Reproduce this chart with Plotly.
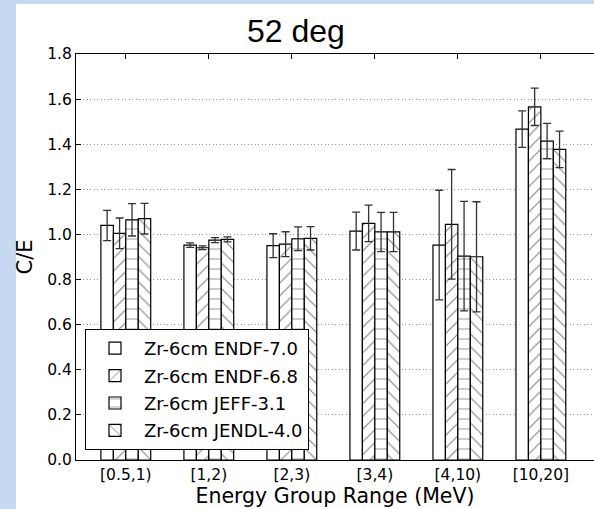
import plotly.graph_objects as go

categories = ["[0.5,1)", "[1,2)", "[2,3)", "[3,4)", "[4,10)", "[10,20]"]
series_names = ["Zr-6cm ENDF-7.0", "Zr-6cm ENDF-6.8", "Zr-6cm JEFF-3.1", "Zr-6cm JENDL-4.0"]
endf70 = [1.040, 0.953, 0.950, 1.015, 0.953, 1.467]
endf70_err = [0.067, 0.010, 0.053, 0.084, 0.243, 0.081]
endf68 = [1.005, 0.941, 0.957, 1.049, 1.045, 1.566]
endf68_err = [0.068, 0.008, 0.055, 0.081, 0.243, 0.083]
jeff31 = [1.065, 0.975, 0.981, 1.011, 0.904, 1.414]
jeff31_err = [0.072, 0.011, 0.053, 0.087, 0.243, 0.078]
jendl40 = [1.070, 0.978, 0.983, 1.011, 0.901, 1.377]
jendl40_err = [0.068, 0.011, 0.052, 0.087, 0.244, 0.081]
y_ticks = [0.0, 0.2, 0.4, 0.6, 0.8, 1.0, 1.2, 1.4, 1.6, 1.8]

values = [endf70, endf68, jeff31, jendl40]
errors = [endf70_err, endf68_err, jeff31_err, jendl40_err]
patterns = [
    dict(shape=""),
    dict(shape="/", fgcolor="#000000", bgcolor="white", size=9, solidity=0.12),
    dict(shape="-", fgcolor="#555555", bgcolor="white", size=10, solidity=0.12),
    dict(shape="\\", fgcolor="#000000", bgcolor="white", size=9, solidity=0.12),
]

W, H = 594, 509
ML, MR, MT, MB = 76, 0, 54, 49
PW = W - ML - MR
PH = H - MT - MB
xr = [-0.6, 5.64]

fig = go.Figure()
for name, v, e, p in zip(series_names, values, errors, patterns):
    fig.add_trace(go.Bar(
        x=list(range(len(categories))), y=v, name=name,
        legendgroup=name,
        marker=dict(color="white", line=dict(color="black", width=1.2), pattern=p),
        error_y=dict(type="data", array=e, visible=True, color="#333333", thickness=1.3, width=4),
    ))

def px_x(p):
    return (p - ML) / PW

def px_y(p):
    return (H - MB - p) / PH

blue = "#c6d9f1"
fig.add_shape(type="rect", xref="paper", yref="paper", x0=px_x(0), x1=px_x(16), y0=px_y(H), y1=px_y(0),
              fillcolor=blue, line_width=0, layer="below")
fig.add_shape(type="rect", xref="paper", yref="paper", x0=px_x(0), x1=px_x(W), y0=px_y(4), y1=px_y(0),
              fillcolor=blue, line_width=0, layer="below")

fig.add_annotation(text="52 deg", xref="paper", yref="paper", x=px_x(296), y=px_y(31),
                   xanchor="center", yanchor="middle", showarrow=False,
                   font=dict(family="Liberation Sans, Arial", size=32, color="black"))

fig.update_layout(
    width=W, height=H,
    margin=dict(l=ML, r=MR, t=MT, b=MB, autoexpand=False),
    paper_bgcolor="white", plot_bgcolor="white",
    font=dict(family="DejaVu Sans", color="black", size=15),
    barmode="group", bargap=0.4, bargroupgap=0.0,
    showlegend=True,
    legend=dict(x=px_x(85), y=px_y(450), xanchor="left", yanchor="bottom",
                bgcolor="white", bordercolor="black", borderwidth=1,
                font=dict(size=18), tracegroupgap=1, itemwidth=48),
    xaxis=dict(range=xr, tickmode="array", tickvals=list(range(len(categories))), ticktext=categories,
               showline=True, linecolor="black", linewidth=1, mirror="ticks",
               ticks="inside", ticklen=5, tickcolor="black", showgrid=False, zeroline=False,
               tickfont=dict(size=15.5),
               title=dict(text="Energy Group Range (MeV)", font=dict(size=20.5), standoff=6)),
    yaxis=dict(range=[0, 1.8], tickmode="array", tickvals=y_ticks, ticktext=[f"{t:.1f}" for t in y_ticks],
               showline=True, linecolor="black", linewidth=1, mirror=False,
               ticks="inside", ticklen=5, tickcolor="black",
               showgrid=True, gridcolor="#999999", griddash="1px,2.5px", gridwidth=1, zeroline=False,
               tickfont=dict(size=15.5),
               title=dict(text="C/E", font=dict(size=21), standoff=8)),
)

fig.write_html("out.html", config={"displayModeBar": False},
               post_script="document.body.style.margin='0';document.body.style.overflow='hidden';")
